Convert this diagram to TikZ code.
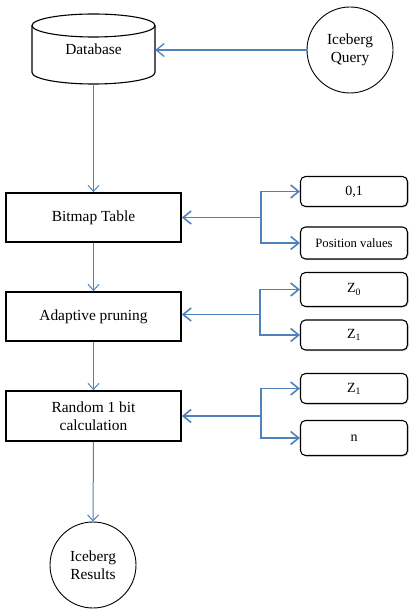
\documentclass[tikz,border=0pt]{standalone}
\usepackage{fontspec}
\setmainfont{Liberation Serif}
\usetikzlibrary{arrows.meta,calc,shadows}
\definecolor{connblue}{HTML}{4F81BD}
\begin{document}
\begin{tikzpicture}[x=1pt,y=-1pt,
  font=\fontsize{15.4}{18.5}\selectfont,
  mainbox/.style={draw=black,line width=1.8pt,minimum width=175pt,minimum height=49pt,align=center,inner sep=0pt},
  valbox/.style={draw=black,line width=1.1pt,rounded corners=5pt,minimum width=107pt,align=center,inner sep=0pt,
    font=\fontsize{14}{16}\selectfont,fill=white,
    drop shadow={shadow xshift=1pt,shadow yshift=-1pt,opacity=0.35,fill=black!60}},
  endcircle/.style={draw=black,line width=0.9pt,circle,minimum size=86pt,align=center,inner sep=0pt},
  flow/.style={draw=connblue,line width=1pt,-{Straight Barb[length=6pt,width=11pt]}},
  feed/.style={draw=connblue,line width=1.6pt},
  barbtip/.style={-{Straight Barb[length=8pt,width=13pt]}},
  barbback/.style={{Straight Barb[length=8pt,width=13pt]}-}
]
\useasboundingbox (0,0) rectangle (413,609);

% database cylinder
\node[minimum width=123pt,minimum height=68pt,inner sep=0pt] (db) at (93.5,50) {};
\draw[line width=1.1pt] (93.5,25.5) ellipse [x radius=61.5, y radius=11.5];
\draw[line width=1.1pt] (32,25.5) -- (32,72.5)
  .. controls (32,78.85) and (59.55,84) .. (93.5,84)
  .. controls (127.45,84) and (155,78.85) .. (155,72.5) -- (155,25.5);
\node at (93.5,49) {Database};

\node[endcircle] (iq) at (350,50) {Iceberg\\Query};

\node[mainbox] (bt) at (93.5,217.5) {Bitmap Table};
\node[mainbox] (ap) at (93.5,316.5) {Adaptive pruning};
\node[mainbox,minimum height=50pt] (rb) at (93.5,416) {Random 1 bit\\calculation};
\node[endcircle] (res) at (93,565) {Iceberg\\Results};

\node[valbox,minimum height=30pt] (v01) at (354,191.5) {0,1};
\node[valbox,minimum height=32pt,font=\fontsize{12.7}{14}\selectfont] (vpos) at (354,243) {Position values};
\node[valbox,minimum height=34pt] (vz0) at (354,289.5) {Z\textsubscript{0}};
\node[valbox,minimum height=30pt] (vz1) at (354,335) {Z\textsubscript{1}};
\node[valbox,minimum height=30pt] (vz1b) at (354,388.5) {Z\textsubscript{1}};
\node[valbox,minimum height=35pt] (vn) at (354,438) {n};

% main flow
\draw[feed,line width=1.3pt,barbtip] (iq.west) -- (db.east);
\draw[flow] (db.south) -- (bt.north);
\draw[flow] (bt.south) -- (ap.north);
\draw[flow] (ap.south) -- (rb.north);
\draw[flow] (rb.south) -- (res.north);

% feeds
\path (bt.east) ++(79,0) coordinate (j1);
\path (ap.east) ++(78,-2) coordinate (j2);
\path (rb.east) ++(79,0) coordinate (j3);

\draw[feed,barbback] (bt.east) -- (j1);
\draw[feed,barbtip] (j1) |- (v01.west);
\draw[feed,barbtip] (j1) |- (vpos.west);

\draw[feed,barbback] (ap.east |- j2) -- (j2);
\draw[feed,barbtip] (j2) |- (vz0.west);
\draw[feed,barbtip] (j2) |- (vz1.west);

\draw[feed,barbback] (rb.east) -- (j3);
\draw[feed,barbtip] (j3) |- (vz1b.west);
\draw[feed,barbtip] (j3) |- (vn.west);
\end{tikzpicture}
\end{document}
